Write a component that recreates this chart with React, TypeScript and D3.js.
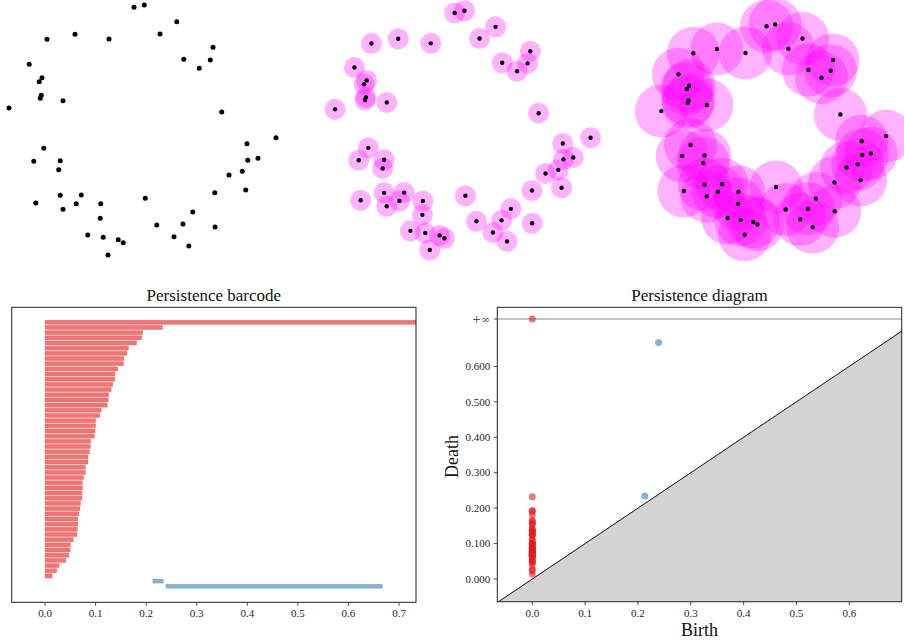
import React from 'react';
import * as d3 from 'd3';

// Point cloud (noisy circle), data units
const pointsX = [-0.068, 0.014, 0.274, 0.140, -0.540, -0.764, -0.268, 0.564, 0.330, 0.542,
  0.454, -0.906, -0.804, -0.826, -0.810, -0.818, -0.636, -1.068, 0.634, 1.068,
  0.836, -0.790, -0.870, -0.658, -0.670, 0.842, 0.924, 0.798, 0.692, 0.826,
  0.578, -0.658, -0.490, -0.854, -0.530, -0.334, -0.636, 0.022, 0.402, -0.338,
  0.114, 0.324, 0.580, -0.438, -0.314, -0.194, -0.154, 0.252, 0.370, -0.276];
const pointsY = [0.982, 1.000, 0.866, 0.768, 0.766, 0.726, 0.728, 0.662, 0.566, 0.560,
  0.494, 0.526, 0.418, 0.386, 0.278, 0.254, 0.234, 0.176, 0.144, -0.062,
  -0.110, -0.146, -0.250, -0.246, -0.318, -0.242, -0.226, -0.330, -0.360, -0.480,
  -0.502, -0.522, -0.520, -0.584, -0.590, -0.590, -0.634, -0.546, -0.656, -0.706,
  -0.760, -0.752, -0.776, -0.840, -0.858, -0.878, -0.902, -0.854, -0.928, -1.000];

// Ball radii for the three panels (data units)
const ballRadii = [0, 0.088, 0.252];

// Persistence: H0 finite deaths (births all 0), sorted descending
const h0Deaths = [0.232, 0.193, 0.191, 0.181, 0.165, 0.162, 0.156, 0.155, 0.144, 0.138,
  0.138, 0.134, 0.131, 0.126, 0.125, 0.123, 0.111, 0.108, 0.100, 0.100,
  0.099, 0.098, 0.090, 0.090, 0.088, 0.085, 0.085, 0.080, 0.080, 0.076,
  0.074, 0.074, 0.073, 0.073, 0.070, 0.069, 0.067, 0.065, 0.065, 0.064,
  0.063, 0.056, 0.050, 0.050, 0.047, 0.041, 0.028, 0.023, 0.014];
const h1Births = [0.213, 0.239];
const h1Deaths = [0.234, 0.667];
const INF_VALUE = 0.7336;

const barcodeTicks = [0, 0.1, 0.2, 0.3, 0.4, 0.5, 0.6, 0.7];
const diagramXTicks = [0, 0.1, 0.2, 0.3, 0.4, 0.5, 0.6];
const diagramYTicks = [0, 0.1, 0.2, 0.3, 0.4, 0.5, 0.6];

const RED = '#e41a1c';
const BLUE = '#377eb8';
const FONT = '"Liberation Serif", "Times New Roman", serif';
const TICK_COLOR = '#262626';

const panelGeom = [
  { cx: 142.5, cy: 130, s: 125, dotR: 2.5 },
  { cx: 462.8, cy: 130.4, s: 119.6, dotR: 2.2 },
  { cx: 773.7, cy: 129.6, s: 105.2, dotR: 2.2 },
];

function CloudPanel({ idx }: { idx: number }) {
  const g = panelGeom[idx];
  const xs = d3.scaleLinear().domain([-1, 1]).range([g.cx - g.s, g.cx + g.s]);
  const ys = d3.scaleLinear().domain([-1, 1]).range([g.cy + g.s, g.cy - g.s]);
  const rPix = xs(ballRadii[idx]) - xs(0);
  return (
    <g>
      {rPix > 0 && pointsX.map((x, i) => (
        <circle key={'b' + i} cx={xs(x)} cy={ys(pointsY[i])} r={rPix} fill="#ff00ff" fillOpacity={0.3} />
      ))}
      {pointsX.map((x, i) => (
        <circle key={'p' + i} cx={xs(x)} cy={ys(pointsY[i])} r={g.dotR} fill="#000" />
      ))}
    </g>
  );
}

function Barcode() {
  const L = 11.7, R = 416, T = 307.3, B = 602.3;
  const x = d3.scaleLinear().domain([-0.0659, INF_VALUE]).range([L, R]);
  const y = d3.scaleLinear().domain([-2.9, 54.1]).range([T, B]);
  type Bar = { b: number; d: number; c: string };
  const bars: Bar[] = [];
  bars.push({ b: 0, d: INF_VALUE, c: RED });
  h0Deaths.forEach((d) => bars.push({ b: 0, d, c: RED }));
  h1Births.forEach((b, i) => bars.push({ b, d: h1Deaths[i], c: BLUE }));
  const h = (y(1) - y(0)) * 0.8;
  return (
    <g>
      <defs>
        <clipPath id="bcclip"><rect x={L} y={T} width={R - L} height={B - T} /></clipPath>
      </defs>
      <g clipPath="url(#bcclip)">
        {bars.map((br, i) => (
          <rect key={i} x={x(br.b)} y={y(i) - h / 2} width={x(br.d) - x(br.b)} height={h}
            fill={br.c} fillOpacity={0.6} stroke={br.c} strokeOpacity={0.25} strokeWidth={0.8} />
        ))}
      </g>
      <rect x={L} y={T} width={R - L} height={B - T} fill="none" stroke="#222" strokeWidth={1} />
      {barcodeTicks.map((t) => (
        <g key={t}>
          <line x1={x(t)} x2={x(t)} y1={B} y2={B + 3.5} stroke="#222" strokeWidth={0.8} />
          <text x={x(t)} y={B + 15} textAnchor="middle" fontSize={11} fontFamily={FONT} fill={TICK_COLOR}>{t.toFixed(1)}</text>
        </g>
      ))}
      <text x={(L + R) / 2} y={300.5} textAnchor="middle" fontSize={17} fontFamily={FONT} fill="#111">Persistence barcode</text>
    </g>
  );
}

function Diagram() {
  const L = 497.3, R = 901.7, T = 307.3, B = 601.7;
  const xmin = -0.0662, xmax = 0.6992, ymin = -0.064, ymax = 0.7666;
  const x = d3.scaleLinear().domain([xmin, xmax]).range([L, R]);
  const y = d3.scaleLinear().domain([ymin, ymax]).range([B, T]);
  const poly = [[xmin, ymin], [xmin, xmin], [xmax, xmax], [xmax, ymin]]
    .map(([a, b]) => `${x(a)},${y(b)}`).join(' ');
  const h0pts = [INF_VALUE, ...h0Deaths];
  return (
    <g>
      <defs>
        <clipPath id="pdclip"><rect x={L} y={T} width={R - L} height={B - T} /></clipPath>
      </defs>
      <g clipPath="url(#pdclip)">
        <polygon points={poly} fill="#d3d3d3" />
        <line x1={x(xmin)} y1={y(xmin)} x2={x(xmax)} y2={y(xmax)} stroke="#111" strokeWidth={1} />
        <line x1={L} x2={R} y1={y(INF_VALUE)} y2={y(INF_VALUE)} stroke="#888" strokeWidth={1} />
        {h0pts.map((d, i) => (
          <circle key={'r' + i} cx={x(0)} cy={y(d)} r={3.5} fill={RED} fillOpacity={0.6} />
        ))}
        {h1Births.map((b, i) => (
          <circle key={'bl' + i} cx={x(b)} cy={y(h1Deaths[i])} r={3.5} fill={BLUE} fillOpacity={0.6} />
        ))}
      </g>
      <rect x={L} y={T} width={R - L} height={B - T} fill="none" stroke="#222" strokeWidth={1} />
      {diagramXTicks.map((t) => (
        <g key={'x' + t}>
          <line x1={x(t)} x2={x(t)} y1={B} y2={B + 3.5} stroke="#222" strokeWidth={0.8} />
          <text x={x(t)} y={B + 15} textAnchor="middle" fontSize={11} fontFamily={FONT} fill={TICK_COLOR}>{t.toFixed(1)}</text>
        </g>
      ))}
      {diagramYTicks.map((t) => (
        <g key={'y' + t}>
          <line x1={L - 3.5} x2={L} y1={y(t)} y2={y(t)} stroke="#222" strokeWidth={0.8} />
          <text x={L - 7} y={y(t) + 3.8} textAnchor="end" fontSize={11} fontFamily={FONT} fill={TICK_COLOR}>{t.toFixed(3)}</text>
        </g>
      ))}
      <line x1={L - 3.5} x2={L} y1={y(INF_VALUE)} y2={y(INF_VALUE)} stroke="#222" strokeWidth={0.8} />
      <text x={L - 7} y={y(INF_VALUE) + 3.8} textAnchor="end" fontSize={11} fontFamily='"DejaVu Serif", serif' fill="#555">+∞</text>
      <text x={(L + R) / 2} y={300.5} textAnchor="middle" fontSize={17} fontFamily={FONT} fill="#111">Persistence diagram</text>
      <text x={(L + R) / 2} y={636} textAnchor="middle" fontSize={18} fontFamily={FONT} fill="#111">Birth</text>
      <text transform={`translate(458, ${(T + B) / 2 + 2}) rotate(-90)`} textAnchor="middle" fontSize={18} fontFamily={FONT} fill="#111">Death</text>
    </g>
  );
}

export default function App() {
  return (
    <svg width={904} height={644} style={{ position: 'absolute', left: 0, top: 0, display: 'block', background: '#fff' }}>
      <rect x={0} y={0} width={904} height={644} fill="#fff" />
      {[0, 1, 2].map((i) => <CloudPanel key={i} idx={i} />)}
      <Barcode />
      <Diagram />
    </svg>
  );
}
